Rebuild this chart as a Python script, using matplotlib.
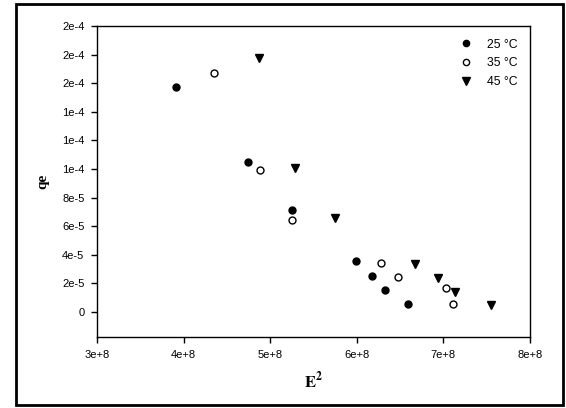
import matplotlib
matplotlib.use("Agg")
import matplotlib.pyplot as plt
from matplotlib.patches import Rectangle

# Data
x_25 = [3.915e8, 4.743e8, 5.246e8, 5.995e8, 6.17e8, 6.32e8, 6.594e8]
y_25 = [1.577e-4, 1.050e-4, 7.14e-5, 3.56e-5, 2.54e-5, 1.55e-5, 5.5e-6]
x_35 = [4.348e8, 4.884e8, 5.246e8, 6.274e8, 6.473e8, 7.031e8, 7.114e8]
y_35 = [1.672e-4, 9.94e-5, 6.45e-5, 3.42e-5, 2.45e-5, 1.66e-5, 5.8e-6]
x_45 = [4.868e8, 5.284e8, 5.745e8, 6.673e8, 6.935e8, 7.13e8, 7.551e8]
y_45 = [1.778e-4, 1.008e-4, 6.57e-5, 3.33e-5, 2.40e-5, 1.39e-5, 5.3e-6]
labels = ["25 \u00b0C", "35 \u00b0C", "45 \u00b0C"]

x_ticks = [3e8, 4e8, 5e8, 6e8, 7e8, 8e8]
x_ticklabels = ["3e+8", "4e+8", "5e+8", "6e+8", "7e+8", "8e+8"]
y_ticks = [0, 2e-5, 4e-5, 6e-5, 8e-5, 1e-4, 1.2e-4, 1.4e-4, 1.6e-4, 1.8e-4, 2e-4]
y_ticklabels = ["0", "2e-5", "4e-5", "6e-5", "8e-5", "1e-4", "1e-4", "1e-4", "2e-4", "2e-4", "2e-4"]

plt.rcParams['font.family'] = ['Liberation Sans', 'DejaVu Sans']
plt.rcParams['mathtext.fontset'] = 'stix'

fig = plt.figure(figsize=(5.66, 4.08), dpi=100)
ax = fig.add_axes([97/566, 1-337/408, (530-97)/566, (337-26)/408])

ax.plot(x_25, y_25, linestyle='none', marker='o', markersize=5,
        markerfacecolor='black', markeredgecolor='black', label=labels[0])
ax.plot(x_35, y_35, linestyle='none', marker='o', markersize=5,
        markerfacecolor='white', markeredgecolor='black', markeredgewidth=1, label=labels[1])
ax.plot(x_45, y_45, linestyle='none', marker='v', markersize=5.8,
        markerfacecolor='black', markeredgecolor='black', label=labels[2])

ax.set_xlim(3e8, 8e8)
ax.set_ylim(-1.74e-5, 2e-4)
ax.set_xticks(x_ticks)
ax.set_xticklabels(x_ticklabels)
ax.set_yticks(y_ticks)
ax.set_yticklabels(y_ticklabels)
ax.tick_params(direction='out', length=4, width=1, labelsize=8, colors='black')
ax.tick_params(axis='x', pad=5)
ax.tick_params(axis='y', pad=5)
for s in ax.spines.values():
    s.set_linewidth(1)

ax.set_xlabel(r"$\mathbf{E^{2}}$", fontsize=12, labelpad=8)
ax.set_ylabel("qe", fontsize=11, fontweight='bold', family='Liberation Serif', labelpad=9)

leg = ax.legend(loc='upper right', frameon=False, fontsize=8.8, handletextpad=1.0,
                labelspacing=0.55, markerscale=0.9, handlelength=1.5,
                borderaxespad=0.0, bbox_to_anchor=(0.983, 0.975))

fig.patches.append(Rectangle((16/566, 3/408), (563-16)/566, (404-3)/408,
                             transform=fig.transFigure, fill=False,
                             edgecolor='black', linewidth=2))

fig.savefig("out.png", dpi=100)
